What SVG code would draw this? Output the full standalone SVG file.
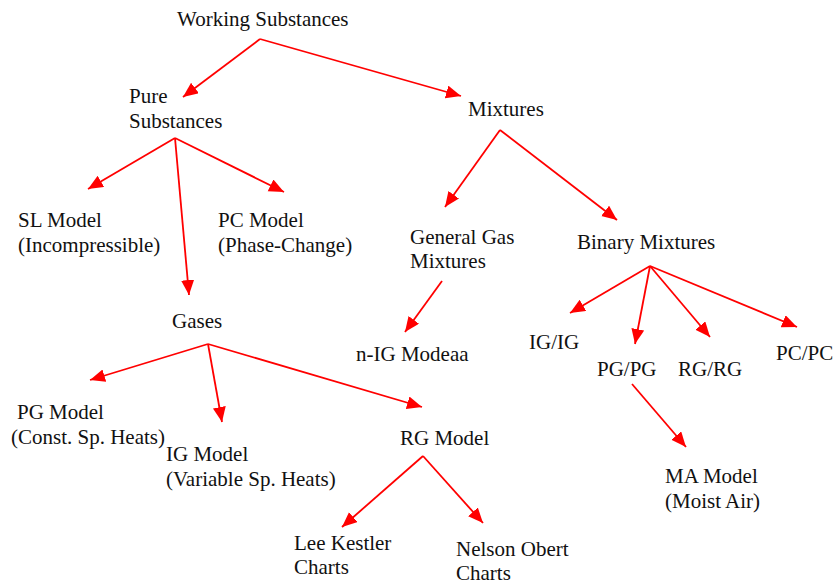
<svg xmlns="http://www.w3.org/2000/svg" width="835" height="585" viewBox="0 0 835 585">
<defs>
<marker id="ah" markerUnits="userSpaceOnUse" markerWidth="16" markerHeight="14" refX="15" refY="6.5" orient="auto">
<path d="M0,0 L15,6.5 L0,13 z" fill="#ff0000"/>
</marker>
<style>
text{font-family:"Liberation Serif","Times New Roman",serif;font-size:21px;fill:#111}
.c line{stroke:#ff0000;stroke-width:1.8;marker-end:url(#ah)}
</style>
</defs>
<rect width="835" height="585" fill="#fff"/>
<g class="c" id="connectors">
<line x1="260" y1="39" x2="183" y2="97"/>
<line x1="260" y1="39" x2="461" y2="96"/>
<line x1="175" y1="138" x2="88" y2="189"/>
<line x1="175" y1="138" x2="284" y2="192"/>
<line x1="175" y1="138" x2="189" y2="295"/>
<line x1="500" y1="130" x2="445" y2="207"/>
<line x1="500" y1="130" x2="617" y2="220"/>
<line x1="442" y1="281" x2="405" y2="332"/>
<line x1="650" y1="266" x2="570" y2="313"/>
<line x1="650" y1="266" x2="635" y2="344"/>
<line x1="650" y1="266" x2="710" y2="337"/>
<line x1="650" y1="266" x2="797" y2="327"/>
<line x1="632" y1="384" x2="686" y2="447"/>
<line x1="208" y1="344" x2="90" y2="380"/>
<line x1="208" y1="344" x2="222" y2="422"/>
<line x1="208" y1="344" x2="422" y2="407"/>
<line x1="423" y1="456" x2="342" y2="527"/>
<line x1="423" y1="456" x2="483" y2="523"/>
</g>
<g id="working"><text x="177" y="26">Working Substances</text></g>
<g id="pure"><text x="129" y="103">Pure</text><text x="129" y="128">Substances</text></g>
<g id="mixtures"><text x="468" y="116">Mixtures</text></g>
<g id="sl"><text x="18" y="227">SL Model</text><text x="18" y="252">(Incompressible)</text></g>
<g id="pc"><text x="218" y="227">PC Model</text><text x="218" y="252">(Phase-Change)</text></g>
<g id="gases"><text x="172" y="328">Gases</text></g>
<g id="general"><text x="410" y="244">General Gas</text><text x="410" y="268">Mixtures</text></g>
<g id="binary"><text x="577" y="249">Binary Mixtures</text></g>
<g id="nig"><text x="356" y="361">n-IG Modeaa</text></g>
<g id="igig"><text x="529" y="349">IG/IG</text></g>
<g id="pgpg"><text x="597" y="376">PG/PG</text></g>
<g id="rgrg"><text x="678" y="376">RG/RG</text></g>
<g id="pcpc"><text x="776" y="360">PC/PC</text></g>
<g id="ma"><text x="665" y="483">MA Model</text><text x="665" y="508">(Moist Air)</text></g>
<g id="pgm"><text x="17" y="419">PG Model</text><text x="11" y="444">(Const. Sp. Heats)</text></g>
<g id="igm"><text x="166" y="461">IG Model</text><text x="166" y="486">(Variable Sp. Heats)</text></g>
<g id="rgm"><text x="400" y="445">RG Model</text></g>
<g id="lee"><text x="294" y="550">Lee Kestler</text><text x="294" y="574">Charts</text></g>
<g id="nelson"><text x="456" y="556">Nelson Obert</text><text x="456" y="580">Charts</text></g>
</svg>
